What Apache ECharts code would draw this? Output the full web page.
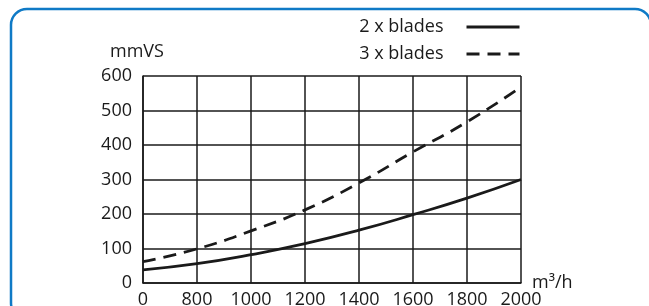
<!DOCTYPE html>
<html>
<head>
    <meta charset="utf-8">
    <title>Pressure drop</title>
    <script src="https://cdn.jsdelivr.net/npm/echarts@6/dist/echarts.min.js"></script>
    <style>
        html, body { margin: 0; padding: 0; background: #fff; }
        #chart { width: 649px; height: 306px; }
    </style>
</head>
<body>
    <div id="chart"></div>

    <script type="text/javascript">
        // airflow m3/h (the first tick 600 is shown as "0", axis is broken there)
        var flow = [600, 800, 1000, 1200, 1400, 1600, 1800, 2000];
        var twoBlades = [38, 56, 82, 114, 153, 198, 246, 300];
        var threeBlades = [62, 99, 151, 212, 290, 380, 467, 568];
        var seriesNames = ['2 x blades', '3 x blades'];

        function pairs(xs, ys) {
            var out = [];
            for (var i = 0; i < xs.length; i++) {
                out.push([xs[i], ys[i]]);
            }
            return out;
        }

        var font = 'Open Sans';
        var ink = '#1a1a1a';
        var fs = 18;

        var myChart = echarts.init(document.getElementById('chart'));
        var option = {
            animation: false,
            textStyle: { fontFamily: font, color: ink },
            graphic: [{
                type: 'rect',
                shape: { x: 11, y: 9, width: 640, height: 310, r: 16 },
                style: { fill: 'none', stroke: '#0f7ac6', lineWidth: 2.5 },
                silent: true
            }],
            grid: { left: 143, right: 128, top: 76, bottom: 23, outerBoundsMode: 'none', containLabel: false },
            legend: {
                orient: 'vertical',
                right: 123,
                top: 13,
                align: 'right',
                itemWidth: 53,
                itemHeight: 14,
                itemGap: 9,
                data: seriesNames,
                itemStyle: { opacity: 0 },
                lineStyle: { width: 3 },
                textStyle: { fontFamily: font, fontSize: fs, color: ink, padding: [0, 18, 0, 0] }
            },
            xAxis: {
                type: 'value',
                min: 600,
                max: 2000,
                interval: 200,
                name: 'm³/h',
                nameLocation: 'end',
                nameGap: 11,
                nameMoveOverlap: false,
                nameTextStyle: { fontFamily: font, fontSize: fs, color: ink, verticalAlign: 'middle', padding: [0, 0, 16, 0] },
                axisLine: { lineStyle: { color: ink, width: 1.5 } },
                axisTick: { show: false },
                axisLabel: {
                    fontFamily: font, fontSize: fs, color: ink, margin: 8,
                    formatter: function (v) { return v === 600 ? '0' : String(v); }
                },
                splitLine: { show: true, lineStyle: { color: ink, width: 1.5 } }
            },
            yAxis: {
                type: 'value',
                min: 0,
                max: 600,
                interval: 100,
                name: 'mmVS',
                nameLocation: 'end',
                nameGap: 15,
                nameMoveOverlap: false,
                nameTextStyle: { fontFamily: font, fontSize: fs, color: ink, padding: [0, 12, 0, 0] },
                axisLine: { show: true, lineStyle: { color: ink, width: 1.5 } },
                axisTick: { show: false },
                axisLabel: { fontFamily: font, fontSize: fs, color: ink, margin: 11 },
                splitLine: { show: true, lineStyle: { color: ink, width: 1.5 } }
            },
            series: [{
                name: seriesNames[0],
                type: 'line',
                smooth: true,
                symbol: 'none',
                data: pairs(flow, twoBlades),
                lineStyle: { color: ink, width: 2.8, type: 'solid' },
                itemStyle: { color: ink }
            }, {
                name: seriesNames[1],
                type: 'line',
                smooth: true,
                symbol: 'none',
                data: pairs(flow, threeBlades),
                lineStyle: { color: ink, width: 2.8, type: [13, 8] },
                itemStyle: { color: ink }
            }]
        };
        myChart.setOption(option);
    </script>
</body>
</html>
